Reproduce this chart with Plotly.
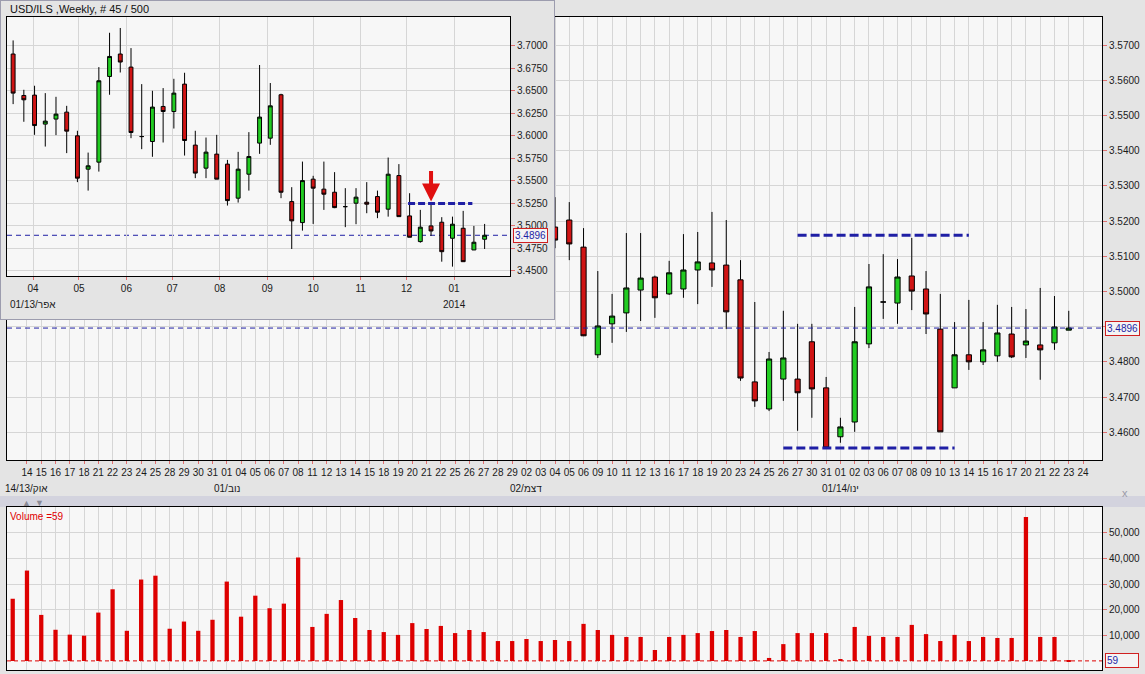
import plotly.graph_objects as go
import pandas as pd

W, H = 1145, 674
FONT = "Liberation Sans, Arial, sans-serif"
PANEL = "#e4e4e4"
PLOT_BG = "#f7f7f7"
GRID = "#d6d6d6"
TICK_RED = "#e07070"
CANDLE_UP = "#22cc22"
CANDLE_DN = "#d01414"
VOL_RED = "#dd0000"
LEVEL_BLUE = "#1f1fa5"

# ---------------- daily chart (main) ----------------
day_dates = [d.strftime("%Y-%m-%d") for d in pd.bdate_range("2013-10-11", "2014-01-24")]
labelled_dates = day_dates[1:]
day_labels = [d[8:10] for d in labelled_dates]
month_labels = {"2013-10-14": "14/13/אוק", "2013-11-01": "01/נוב",
                "2013-12-02": "02/דצמ", "2014-01-01": "01/14/ינו"}

candle_start = "2013-12-04"
d_open = [3.5183, 3.5203, 3.5126, 3.4820, 3.4908, 3.4939, 3.5004, 3.5041, 3.4993, 3.5007,
          3.5061, 3.5081, 3.5075, 3.5033, 3.4743, 3.4666, 3.4751, 3.4751, 3.4857, 3.4726,
          3.4587, 3.4629, 3.4851, 3.4970, 3.4967, 3.5044, 3.5007, 3.4893, 3.4726, 3.4820,
          3.4800, 3.4817, 3.4879, 3.4848, 3.4848, 3.4854, 3.4890]
d_high = [3.5268, 3.5254, 3.5180, 3.5058, 3.4993, 3.5166, 3.5166, 3.5045, 3.5087, 3.5163,
          3.5169, 3.5226, 3.5203, 3.5089, 3.4970, 3.4828, 3.4945, 3.4908, 3.4908, 3.4757,
          3.4641, 3.4956, 3.5078, 3.5106, 3.5092, 3.5152, 3.5058, 3.4993, 3.4913, 3.4976,
          3.4913, 3.4962, 3.4956, 3.4950, 3.5010, 3.4987, 3.4945]
d_low = [3.5123, 3.5089, 3.4873, 3.4811, 3.4854, 3.4885, 3.4916, 3.4925, 3.4990, 3.4982,
         3.4964, 3.5013, 3.4893, 3.4746, 3.4672, 3.4660, 3.4689, 3.4604, 3.4641, 3.4553,
         3.4570, 3.4601, 3.4839, 3.4922, 3.4908, 3.4947, 3.4879, 3.4601, 3.4726, 3.4777,
         3.4791, 3.4800, 3.4811, 3.4811, 3.4749, 3.4834, 3.4890]
d_close = [3.5146, 3.5135, 3.4874, 3.4902, 3.4930, 3.5010, 3.5038, 3.4982, 3.5053, 3.5061,
           3.5084, 3.5061, 3.4942, 3.4754, 3.4689, 3.4808, 3.4811, 3.4712, 3.4723, 3.4555,
           3.4615, 3.4857, 3.5013, 3.4970, 3.5041, 3.5001, 3.4936, 3.4601, 3.4820, 3.4800,
           3.4834, 3.4882, 3.4814, 3.4859, 3.4834, 3.4899, 3.4896]

volume = [24300, 35300, 18000, 12200, 10300, 9900, 18900, 28000, 11800, 31800,
          33300, 12600, 15400, 11800, 16100, 31000, 17300, 25500, 20600, 22400,
          40400, 13300, 18400, 23800, 16800, 12100, 11300, 10200, 14800, 12500,
          13700, 10900, 12100, 11300, 7800, 7800, 8600, 7800, 8200, 7800,
          14500, 12100, 10200, 9400, 9400, 4300, 9400, 10200, 10900, 11700,
          12100, 9400, 11700, 1200, 6600, 10900, 10900, 10900, 800, 13300,
          9800, 9400, 9400, 14100, 10500, 7800, 10200, 7800, 9400, 9000,
          9000, 56200, 9400, 9400, 59]

last_price = 3.4896
last_volume = 59
resistance = {"from": "2013-12-27", "to": "2014-01-14", "level": 3.5160}
support = {"from": "2013-12-26", "to": "2014-01-13", "level": 3.4555}

# ---------------- weekly chart (inset) ----------------
week_dates = [d.strftime("%Y-%m-%d") for d in pd.date_range("2013-03-19", periods=45, freq="7D")]
w_open = [3.6908, 3.6448, 3.6452, 3.6130, 3.6186, 3.6263, 3.6000, 3.5630, 3.5708, 3.6659,
          3.6908, 3.6763, 3.5992, 3.5937, 3.6326, 3.6270, 3.6574, 3.5897, 3.5641, 3.5797,
          3.5686, 3.5308, 3.5574, 3.5919, 3.5974, 3.6456, 3.5270, 3.5037, 3.5519, 3.5408,
          3.5374, 3.5214, 3.5252, 3.5263, 3.5326, 3.5186, 3.5559, 3.5111, 3.4826, 3.5000,
          3.5041, 3.4863, 3.4974, 3.4733, 3.4852]
w_high = [3.7059, 3.6511, 3.6556, 3.6474, 3.6433, 3.6333, 3.6056, 3.5814, 3.6763, 3.7144,
          3.7197, 3.6974, 3.6574, 3.6500, 3.6530, 3.6633, 3.6700, 3.6056, 3.5981, 3.6011,
          3.5733, 3.5822, 3.6041, 3.6786, 3.6586, 3.6467, 3.5430, 3.5714, 3.5556, 3.5714,
          3.5597, 3.5419, 3.5419, 3.5486, 3.5392, 3.5759, 3.5686, 3.5363, 3.5178, 3.5233,
          3.5097, 3.5103, 3.5167, 3.5000, 3.5022]
w_low = [3.6352, 3.6156, 3.6011, 3.5881, 3.6008, 3.5808, 3.5486, 3.5392, 3.5603, 3.6456,
         3.6703, 3.5974, 3.5852, 3.5767, 3.5926, 3.6081, 3.5781, 3.5530, 3.5530, 3.5519,
         3.5226, 3.5259, 3.5392, 3.5800, 3.5900, 3.5308, 3.4744, 3.4948, 3.5022, 3.5178,
         3.5197, 3.4986, 3.5019, 3.5141, 3.5086, 3.5103, 3.5103, 3.4874, 3.4814, 3.4889,
         3.4603, 3.4548, 3.4603, 3.4733, 3.4744]
w_close = [3.6474, 3.6400, 3.6114, 3.6163, 3.6241, 3.6052, 3.5530, 3.5667, 3.6611, 3.6881,
           3.6819, 3.6037, 3.5992, 3.6319, 3.6270, 3.6474, 3.5948, 3.5586, 3.5819, 3.5519,
           3.5281, 3.5630, 3.5770, 3.6208, 3.6333, 3.5374, 3.5056, 3.5503, 3.5419, 3.5352,
           3.5203, 3.5214, 3.5319, 3.5241, 3.5152, 3.5574, 3.5103, 3.4874, 3.4986, 3.4944,
           3.4714, 3.5019, 3.4603, 3.4819, 3.4896]
week_months = ["2013-04-01", "2013-05-01", "2013-06-01", "2013-07-01", "2013-08-01",
               "2013-09-01", "2013-10-01", "2013-11-01", "2013-12-01", "2014-01-01"]
week_month_labels = ["04", "05", "06", "07", "08", "09", "10", "11", "12", "01"]
week_level = {"from": "2013-12-02", "to": "2014-01-13", "level": 3.5250}
arrow_week = "2013-12-17"
main_price_ticks = [3.46, 3.47, 3.48, 3.49, 3.50, 3.51, 3.52, 3.53, 3.54, 3.55, 3.56, 3.57]
inset_price_ticks = [3.45, 3.475, 3.50, 3.525, 3.55, 3.575, 3.60, 3.625, 3.65, 3.675, 3.70]
volume_ticks = [10000, 20000, 30000, 40000, 50000]


def px_x(px):
    return px / W


def px_y(px):
    return 1 - px / H


cs = day_dates.index(candle_start)
candle_dates = day_dates[cs:cs + len(d_open)]

fig = go.Figure()

candle_style = dict(
    increasing=dict(fillcolor=CANDLE_UP, line=dict(color="#000000", width=1)),
    decreasing=dict(fillcolor=CANDLE_DN, line=dict(color="#000000", width=1)),
    whiskerwidth=0, hoverinfo="skip", showlegend=False)

fig.add_trace(go.Candlestick(x=candle_dates, open=d_open, high=d_high, low=d_low,
                             close=d_close, xaxis="x", yaxis="y", **candle_style))
for lvl in (resistance, support):
    fig.add_trace(go.Scatter(x=[lvl["from"], lvl["to"]], y=[lvl["level"], lvl["level"]],
                             mode="lines", xaxis="x", yaxis="y", hoverinfo="skip",
                             line=dict(color=LEVEL_BLUE, width=3, dash="9px,4px")))

fig.add_trace(go.Bar(x=day_dates[:len(volume)], y=volume, xaxis="x2", yaxis="y2",
                     width=0.3, marker=dict(color=VOL_RED, line=dict(width=0)),
                     hoverinfo="skip"))

# frame subplot for the inset window (drawn above the main chart)
fig.add_trace(go.Scatter(x=[None], y=[None], xaxis="x3", yaxis="y3", hoverinfo="skip"))

fig.add_trace(go.Candlestick(x=week_dates, open=w_open, high=w_high, low=w_low,
                             close=w_close, xaxis="x4", yaxis="y4", **candle_style))
fig.add_trace(go.Scatter(x=[week_level["from"], week_level["to"]],
                         y=[week_level["level"], week_level["level"]], mode="lines",
                         xaxis="x4", yaxis="y4", hoverinfo="skip",
                         line=dict(color=LEVEL_BLUE, width=3, dash="7px,3px")))

main_x_dom = [px_x(7), px_x(1102)]
cat_range = [-0.4, 76.33]
inset_x_range = ["2013-03-15", "2014-02-06 14:00"]

axis_common = dict(showline=True, linecolor="#000000", linewidth=1, mirror=True,
                   showgrid=True, gridcolor=GRID, gridwidth=1, zeroline=False,
                   fixedrange=True, automargin=False,
                   tickfont=dict(family=FONT, size=10, color="#1a1a1a"))

fig.update_layout(
    width=W, height=H, margin=dict(l=0, r=0, t=0, b=0),
    paper_bgcolor=PANEL, plot_bgcolor=PLOT_BG, showlegend=False, hovermode=False,
    boxgap=0.48, font=dict(family=FONT, size=10, color="#1a1a1a"),
    xaxis=dict(domain=main_x_dom, anchor="y", type="category", categoryorder="array",
               categoryarray=day_dates, range=cat_range, tickmode="array",
               tickvals=labelled_dates, ticktext=day_labels, tickangle=0,
               ticks="outside", ticklen=3, tickcolor=TICK_RED,
               rangeslider=dict(visible=False), **axis_common),
    yaxis=dict(domain=[px_y(460), px_y(17)], anchor="x", side="right",
               range=[3.4521, 3.5780], tickmode="array", tickvals=main_price_ticks,
               tickformat=".4f", ticks="outside", ticklen=4, tickcolor=TICK_RED,
               **axis_common),
    xaxis2=dict(domain=main_x_dom, anchor="y2", type="category", categoryorder="array",
                categoryarray=day_dates, range=cat_range, tickmode="array",
                tickvals=labelled_dates, showticklabels=False, ticks="", **axis_common),
    yaxis2=dict(domain=[px_y(670), px_y(507)], anchor="x2", side="right",
                range=[-3500, 60100], tickmode="array", tickvals=volume_ticks,
                tickformat=",", ticks="outside", ticklen=4, tickcolor=TICK_RED,
                **axis_common),
    xaxis3=dict(domain=[0, px_x(555)], anchor="y3", range=[0, 1], visible=False,
                fixedrange=True),
    yaxis3=dict(domain=[px_y(320), 1], anchor="x3", range=[0, 1], visible=False,
                fixedrange=True),
    xaxis4=dict(domain=[px_x(7), px_x(510)], anchor="y4", type="date",
                range=inset_x_range, tickmode="array", tickvals=week_months,
                ticktext=week_month_labels, tickangle=0, ticks="outside", ticklen=3,
                tickcolor=TICK_RED, rangeslider=dict(visible=False), **axis_common),
    yaxis4=dict(domain=[px_y(276), px_y(17)], anchor="x4", side="right",
                range=[3.4444, 3.7319], tickmode="array", tickvals=inset_price_ticks,
                tickformat=".4f", ticks="outside", ticklen=4, tickcolor=TICK_RED,
                **axis_common),
)

shapes = [
    # band between price and volume panels
    dict(type="rect", xref="paper", yref="paper", x0=0, x1=1, y0=px_y(507), y1=px_y(496),
         fillcolor="#d3d3de", line=dict(width=0), layer="below"),
    # inset window frame (in the frame subplot so it covers the main chart)
    dict(type="rect", xref="x3", yref="y3", x0=0, x1=1, y0=0, y1=1,
         fillcolor=PANEL, line=dict(color="#9c9cae", width=2), layer="below"),
    # last price lines
    dict(type="line", xref="x", yref="y", x0=cat_range[0], x1=cat_range[1],
         y0=last_price, y1=last_price, line=dict(color=LEVEL_BLUE, width=1, dash="5px,4px"),
         layer="above"),
    dict(type="line", xref="x4", yref="y4", x0=inset_x_range[0], x1=inset_x_range[1],
         y0=last_price, y1=last_price, line=dict(color=LEVEL_BLUE, width=1, dash="5px,4px"),
         layer="below"),
    dict(type="line", xref="x2", yref="y2", x0=cat_range[0], x1=cat_range[1],
         y0=last_volume, y1=last_volume, line=dict(color=VOL_RED, width=1, dash="4px,3px"),
         layer="below"),
]

annotations = []
for d, txt in month_labels.items():
    annotations.append(dict(x=day_dates.index(d), xref="x", y=px_y(488), yref="paper",
                            text=txt, showarrow=False, xanchor="center", yanchor="middle",
                            font=dict(size=10, color="#1a1a1a")))
annotations += [
    dict(x=px_x(8), y=px_y(9), xref="paper", yref="paper", text="USD/ILS ,Weekly, # 45 / 500",
         showarrow=False, xanchor="left", yanchor="middle", font=dict(size=11, color="#111")),
    dict(x=px_x(8), y=px_y(304), xref="paper", yref="paper", text="01/13/אפר",
         showarrow=False, xanchor="left", yanchor="middle", font=dict(size=10, color="#1a1a1a")),
    dict(x="2014-01-01", xref="x4", y=px_y(304), yref="paper", text="2014",
         showarrow=False, xanchor="center", yanchor="middle", font=dict(size=10, color="#1a1a1a")),
    dict(x=px_x(8), y=px_y(516), xref="paper", yref="paper", text="Volume =59",
         showarrow=False, xanchor="left", yanchor="middle", font=dict(size=10, color="#e00000")),
    dict(x=px_x(1105), xref="paper", y=last_price, yref="y", text=f"{last_price:.4f}",
         showarrow=False, xanchor="left", yanchor="middle", bordercolor="#d02020",
         borderwidth=1, borderpad=1, bgcolor="#f4f4f4", font=dict(size=10, color="#1f1fa5")),
    dict(x=px_x(513), xref="paper", y=last_price, yref="y4", text=f"{last_price:.4f}",
         showarrow=False, xanchor="left", yanchor="middle", bordercolor="#d02020",
         borderwidth=1, borderpad=1, bgcolor="#f4f4f4", font=dict(size=10, color="#1f1fa5")),
    dict(x=px_x(1105), xref="paper", y=last_volume, yref="y2", text=str(last_volume),
         showarrow=False, xanchor="left", yanchor="middle", bordercolor="#d02020",
         borderwidth=1, borderpad=1, bgcolor="#f4f4f4", width=30, align="left",
         font=dict(size=10, color="#1f1fa5")),
    dict(x=arrow_week, xref="x4", y=week_level["level"] + 0.002, yref="y4", text="",
         showarrow=True, arrowhead=2, arrowsize=0.9, arrowwidth=4, arrowcolor="#e01010",
         ax=0, ay=-32),
    dict(x=px_x(20), y=px_y(503), xref="paper", yref="paper", text="▲", showarrow=False,
         yanchor="middle", font=dict(size=9, color="#8a8a96")),
    dict(x=px_x(33), y=px_y(503), xref="paper", yref="paper", text="▼", showarrow=False,
         yanchor="middle", font=dict(size=9, color="#8a8a96")),
    dict(x=px_x(1130), y=px_y(501), xref="paper", yref="paper", text="x", showarrow=False,
         font=dict(size=11, color="#9a9aa8")),
]
fig.update_layout(shapes=shapes, annotations=annotations)

fig.write_html("out.html", config={"displayModeBar": False},
               post_script="document.body.style.margin='0';")
